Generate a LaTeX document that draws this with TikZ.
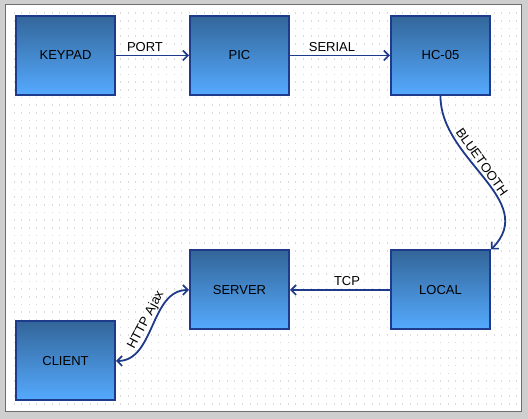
\documentclass[tikz,border=0pt]{standalone}
\usepackage{fontspec}
\setmainfont{Liberation Sans}
\usetikzlibrary{arrows.meta}
\definecolor{boxtop}{HTML}{33669A}
\definecolor{boxbot}{HTML}{55AAFF}
\definecolor{navy}{HTML}{1E3A8A}
\definecolor{outergray}{HTML}{CFCFCF}
\definecolor{framegray}{HTML}{6E6E6E}
\definecolor{dotgray}{HTML}{DADADA}
\tikzset{
  blockbox/.style={draw=navy, line width=2pt, top color=boxtop, bottom color=boxbot,
    minimum width=99pt, minimum height=79pt, inner sep=0pt, text=black,
    font=\fontsize{13}{15}\selectfont},
  conn/.style={draw=navy, line width=1.8pt, -{Straight Barb[length=5pt,width=10pt,line width=1.6pt]}},
  dconn/.style={draw=navy, line width=1.8pt, {Straight Barb[length=5pt,width=10pt,line width=1.6pt]}-{Straight Barb[length=5pt,width=10pt,line width=1.6pt]}},
  elabel/.style={font=\fontsize{13}{15}\selectfont, text=black, inner sep=1pt}
}
\begin{document}
\begin{tikzpicture}[x=1pt,y=-1pt]
\useasboundingbox (0,0) rectangle (528,419);
\fill[outergray] (0,0) rectangle (528,419);
\fill[white] (5,5) rectangle (521,412);
\foreach \i in {0,...,66} {
  \foreach \j in {0,...,52} {
    \fill[dotgray] ({14+7.62*\i-0.5},{13.3+7.66*\j-0.8}) rectangle ++(1,1.6);
  }
}
\draw[framegray, line width=1pt] (5,5) rectangle (521,412);

\node[blockbox] (keypad) at (65.5,55.5) {KEYPAD};
\node[blockbox] (pic) at (239.5,55.5) {PIC};
\node[blockbox] (hc) at (440.5,55.5) {HC-05};
\node[blockbox] (server) at (239.5,290) {SERVER};
\node[blockbox] (local) at (440.5,290) {LOCAL};
\node[blockbox] (client) at (65.5,361) {CLIENT};

\draw[conn] (keypad.east) -- (pic.west);
\draw[conn] (pic.east) -- (hc.west);
\draw[conn] (hc.south) .. controls (440,160) and (540,200) .. (local.north east);
\draw[conn] (local.west) -- (server.east);
\draw[dconn] (client.east) .. controls (155,361) and (150,290) .. (server.west);

\node[elabel] (lport) at (145,47) {PORT};
\node[elabel] (lserial) at (332,47) {SERIAL};
\node[elabel] (ltcp) at (347,281) {TCP};
\node[elabel, rotate=-54.5] (lbt) at (482,162) {BLUETOOTH};
\node[elabel, rotate=62] (lhttp) at (146,320) {HTTP Ajax};
\end{tikzpicture}
\end{document}
